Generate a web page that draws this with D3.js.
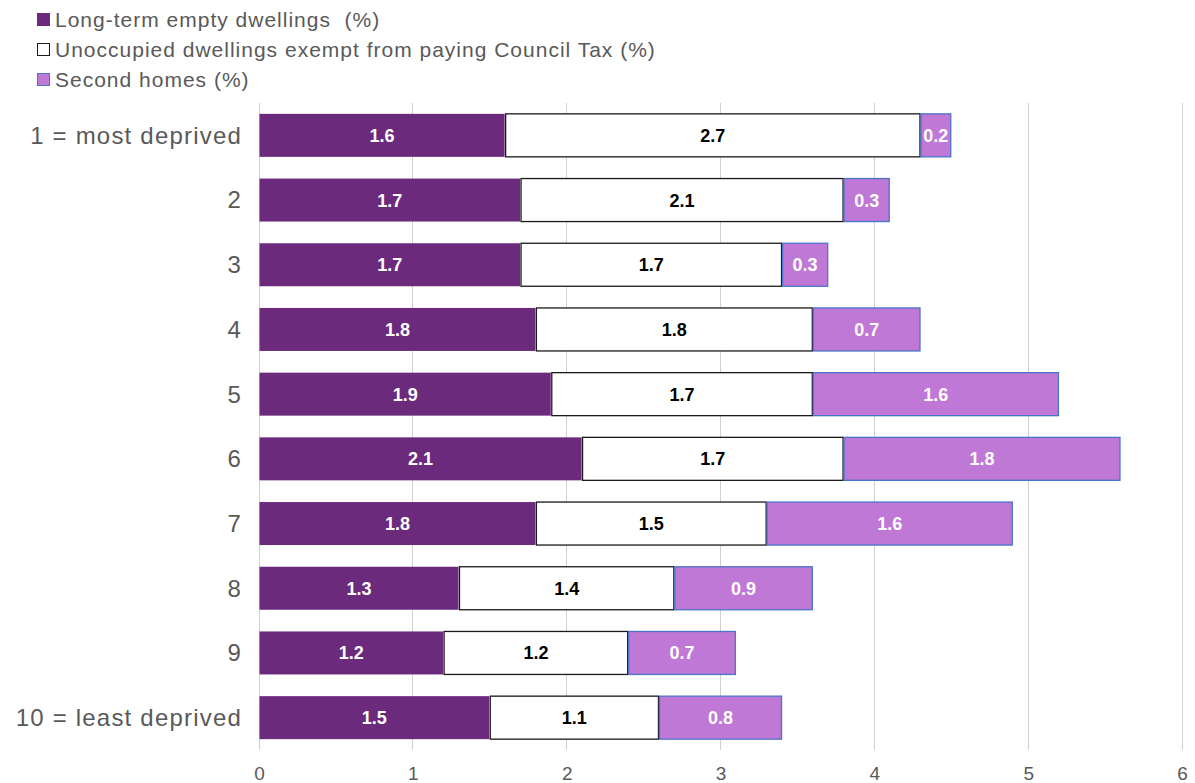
<!DOCTYPE html>
<html>
<head>
<meta charset="utf-8">
<script src="https://cdn.jsdelivr.net/npm/d3@7"></script>
<style>
  html, body { margin: 0; padding: 0; background: #fff; }
  svg { display: block; font-family: "Liberation Sans", Arial, sans-serif; }
</style>
</head>
<body>
<svg id="chart" width="1195" height="783"></svg>
<script>
// Deprivation deciles (1 = most deprived)
const categories = ["1 = most deprived", "2", "3", "4", "5", "6", "7", "8", "9", "10 = least deprived"];
const seriesNames = [
  "Long-term empty dwellings  (%)",
  "Unoccupied dwellings exempt from paying Council Tax (%)",
  "Second homes (%)"
];
const longTermEmpty = [1.6, 1.7, 1.7, 1.8, 1.9, 2.1, 1.8, 1.3, 1.2, 1.5];
const exemptUnoccupied = [2.7, 2.1, 1.7, 1.8, 1.7, 1.7, 1.5, 1.4, 1.2, 1.1];
const secondHomes = [0.2, 0.3, 0.3, 0.7, 1.6, 1.8, 1.6, 0.9, 0.7, 0.8];
const xTicks = [0, 1, 2, 3, 4, 5, 6];

const seriesStyle = [
  { fill: "#6B2A7C", stroke: "#6B2A7C", text: "#ffffff" },
  { fill: "#ffffff", stroke: "#1a1a1a", text: "#000000" },
  { fill: "#BF78D5", stroke: "#4A74C9", text: "#ffffff" }
];

const rows = categories.map((c, i) => ({
  cat: c,
  vals: [longTermEmpty[i], exemptUnoccupied[i], secondHomes[i]]
}));

const svg = d3.select("#chart");
const margin = { left: 259, right: 13, top: 103, bottom: 33 };
const W = 1195, H = 783;

const x = d3.scaleLinear().domain([0, 6]).range([margin.left, W - margin.right]);
const y = d3.scaleBand().domain(categories).range([margin.top, H - margin.bottom]).paddingInner(0.32).paddingOuter(0.16);

// vertical gridlines
svg.append("g").selectAll("line").data(xTicks).join("line")
  .attr("x1", d => x(d)).attr("x2", d => x(d))
  .attr("y1", margin.top).attr("y2", H - margin.bottom)
  .attr("stroke", "#d0d0d0").attr("stroke-width", 1)
  .attr("shape-rendering", "crispEdges");

// x tick labels
svg.append("g").selectAll("text").data(xTicks).join("text")
  .attr("x", d => x(d) + 0.5).attr("y", 780)
  .attr("text-anchor", "middle")
  .attr("font-size", 19).attr("fill", "#595959")
  .text(d => d);

// category labels
svg.append("g").selectAll("text").data(categories).join("text")
  .attr("x", 242).attr("y", d => y(d) + y.bandwidth() / 2)
  .attr("dy", "0.35em")
  .attr("text-anchor", "end")
  .attr("font-size", 24).attr("fill", "#595959")
  .attr("letter-spacing", 1.2)
  .text(d => d);

// stacked segments
const segs = [];
rows.forEach(r => {
  let acc = 0;
  r.vals.forEach((v, k) => {
    segs.push({ cat: r.cat, k, v, x0: acc, x1: acc + v });
    acc += v;
  });
});

const bars = svg.append("g");
bars.selectAll("rect").data(segs).join("rect")
  .attr("x", d => x(d.x0) + 0.5)
  .attr("y", d => y(d.cat) + 0.5)
  .attr("width", d => x(d.x1) - x(d.x0) - 1)
  .attr("height", y.bandwidth() - 1)
  .attr("fill", d => seriesStyle[d.k].fill)
  .attr("stroke", d => seriesStyle[d.k].stroke)
  .attr("stroke-width", d => d.k === 0 ? 0 : 1.3);

bars.selectAll("text").data(segs).join("text")
  .attr("x", d => (x(d.x0) + x(d.x1)) / 2)
  .attr("y", d => y(d.cat) + y.bandwidth() / 2)
  .attr("dy", "0.36em")
  .attr("text-anchor", "middle")
  .attr("font-size", 18).attr("font-weight", "bold")
  .attr("fill", d => seriesStyle[d.k].text)
  .text(d => d3.format(".1f")(d.v));

// legend
const legend = svg.append("g");
seriesNames.forEach((name, k) => {
  const cy = 20 + k * 30;
  legend.append("rect")
    .attr("x", 37.5).attr("y", cy - 6.5)
    .attr("width", 12).attr("height", 12)
    .attr("fill", seriesStyle[k].fill)
    .attr("stroke", k === 0 ? seriesStyle[k].fill : seriesStyle[k].stroke)
    .attr("stroke-width", 1);
  legend.append("text")
    .attr("x", 55).attr("y", cy)
    .attr("dy", "0.35em")
    .attr("font-size", 21).attr("fill", "#595959")
    .attr("letter-spacing", 1)
    .attr("xml:space", "preserve")
    .style("white-space", "pre")
    .text(name);
});
</script>
</body>
</html>
